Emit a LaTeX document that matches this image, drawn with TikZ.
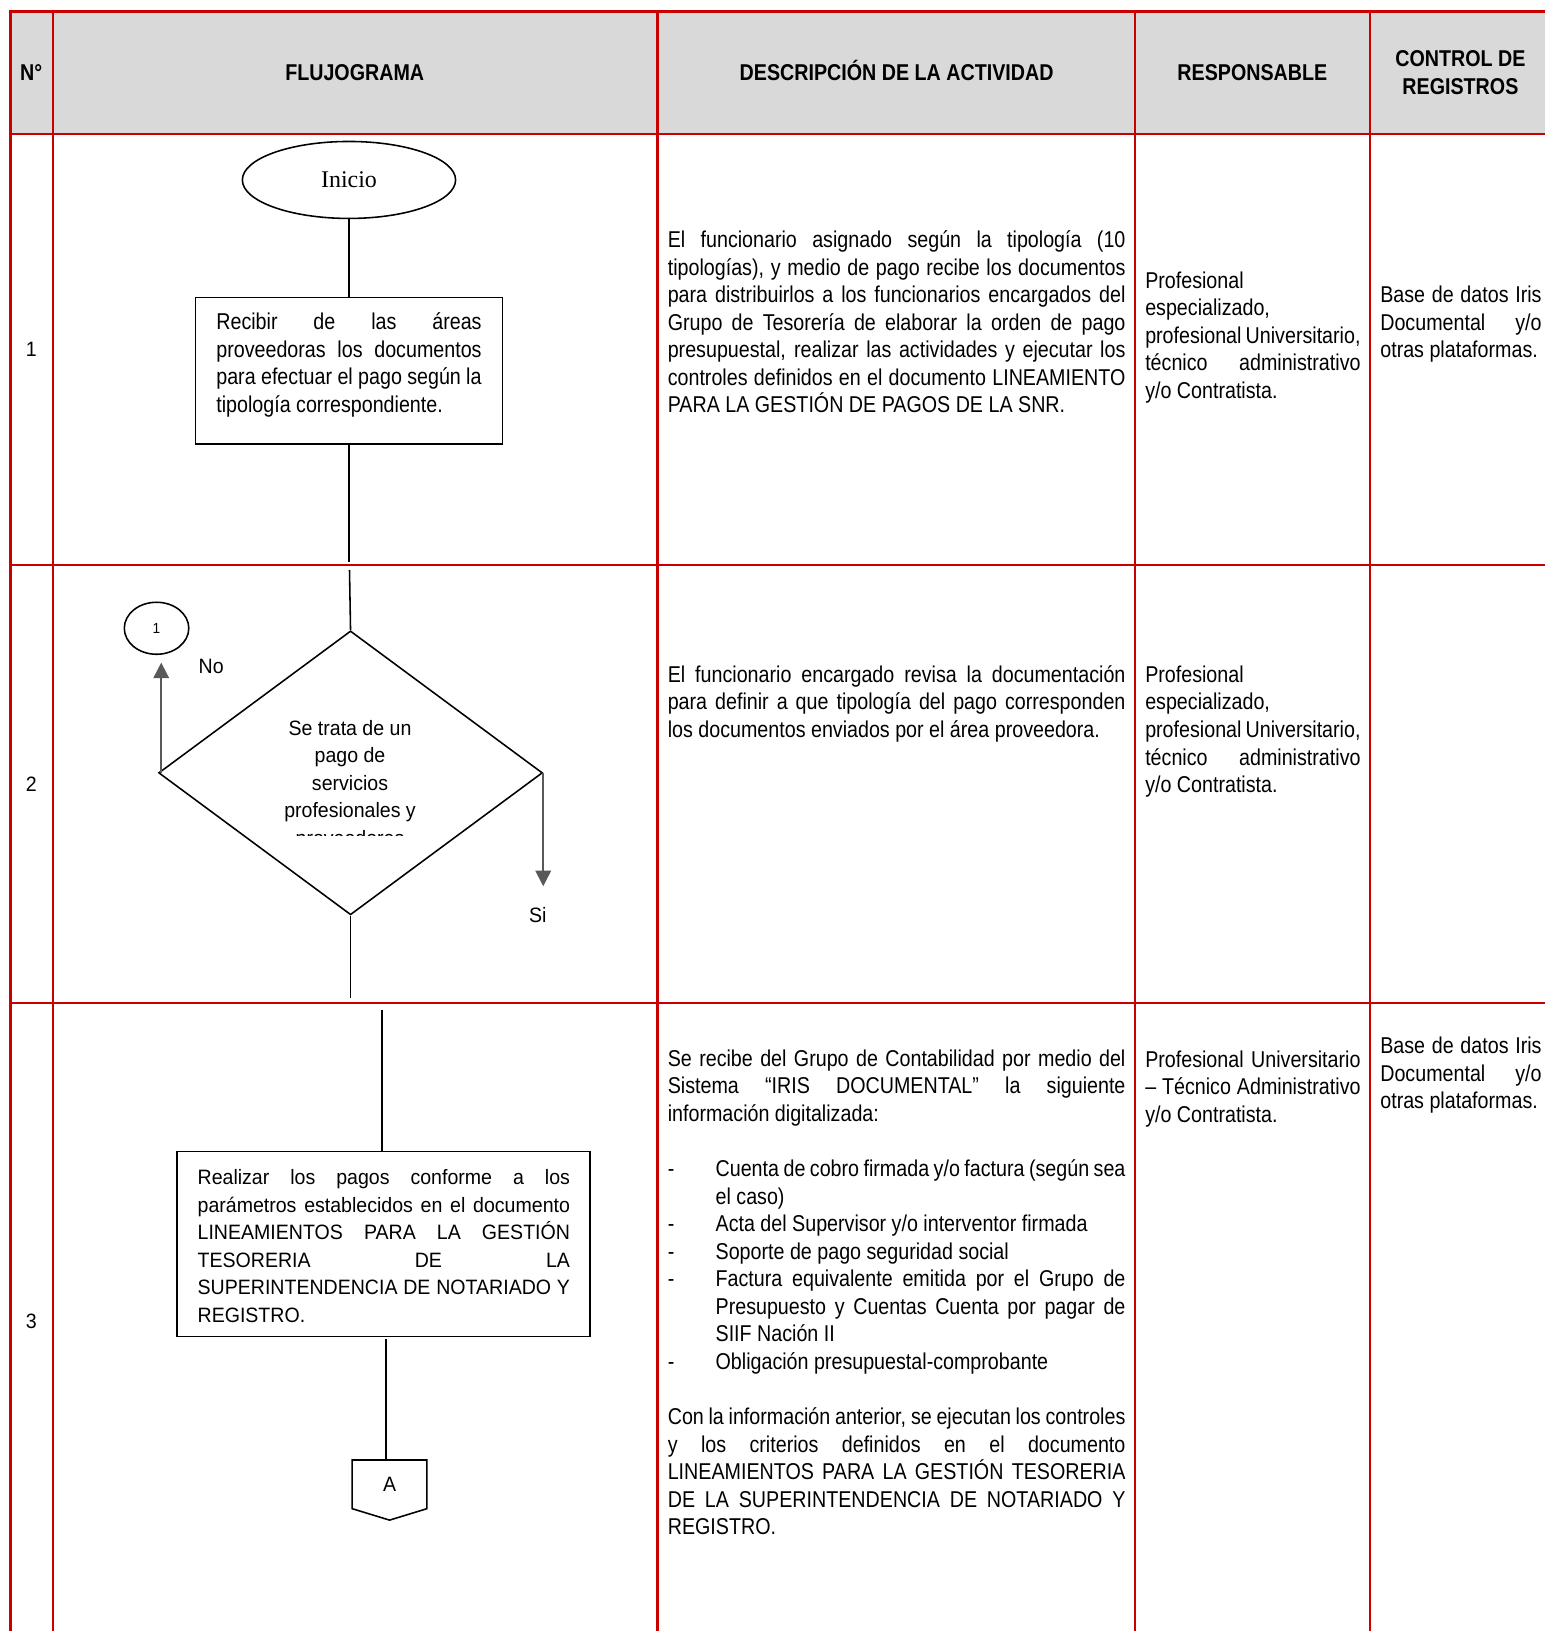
\documentclass[tikz,border=0pt]{standalone}
\usepackage{fontspec}
\setmainfont{Liberation Sans}
\newfontfamily\narrowf[FakeStretch=0.86]{Liberation Sans}
\newfontfamily\regf[FakeStretch=0.94]{Liberation Sans}
\newfontfamily\serf{Liberation Serif}
\usetikzlibrary{shapes.geometric,arrows.meta}
\definecolor{tblred}{RGB}{200,0,0}
\definecolor{hdrgray}{RGB}{217,217,217}
\definecolor{arrgray}{RGB}{89,89,89}
\newcommand\jusl[1]{\makebox[\linewidth][s]{#1}\par}
\newcommand\lastl[1]{\makebox[\linewidth][l]{#1}\par}
\newcommand\bulj[2]{\makebox[23pt][l]{#1}\makebox[\dimexpr\linewidth-23pt\relax][s]{#2}\par}
\newcommand\bull[2]{\makebox[23pt][l]{#1}\makebox[\dimexpr\linewidth-23pt\relax][l]{#2}\par}
\newcommand\cellfont{\narrowf\fontsize{11}{13.25}\selectfont}
\newcommand\boxfont{\regf\fontsize{10}{13.2}\selectfont}
\newcommand\celltext[2]{\parbox[t]{#1}{\cellfont\parindent=0pt\parskip=0pt\lineskiplimit=-20pt\relax #2}}
\newcommand\boxtext[2]{\parbox[t]{#1}{\boxfont\parindent=0pt\parskip=0pt\lineskiplimit=-20pt\relax #2}}
\begin{document}
\begin{tikzpicture}[x=0.5pt,y=-0.5pt,
  redline/.style={draw=tblred,line width=1.1pt},
  cell/.style={anchor=base west,inner sep=0pt,outer sep=0pt},
  hdr/.style={inner sep=0pt,anchor=base,align=center,font=\narrowf\bfseries\fontsize{11}{13.5}\selectfont},
  num/.style={inner sep=0pt,font=\regf\fontsize{10}{12}\selectfont},
  flow/.style={draw=black,line width=0.75pt},
  conn/.style={draw=black,line width=0.75pt},
  garrow/.style={draw=arrgray,line width=0.8pt,-{Triangle[length=7.5pt,width=7.5pt]}}]
\useasboundingbox (0,0) rectangle (1485,1568);
% table
\fill[hdrgray] (10,11) rectangle (1485,129);
\draw[redline] (10,1568) -- (10,11) -- (1485,11);
\draw[redline] (10,129) -- (1485,129);
\draw[redline] (10,543) -- (1485,543);
\draw[redline] (10,964) -- (1485,964);
\foreach \x in {51,632,1091,1317} \draw[redline] (\x,11) -- (\x,1568);
% headers
\node[hdr] (hN) at (30,77.5) {N°};
\node[hdr] (hF) at (341,77.5) {FLUJOGRAMA};
\node[hdr] (hD) at (862,77.5) {DESCRIPCIÓN DE LA ACTIVIDAD};
\node[hdr] (hR) at (1204,77.5) {RESPONSABLE};
\node[hdr] (hC1) at (1404,64) {CONTROL DE};
\node[hdr] (hC2) at (1404,91) {REGISTROS};
% row numbers
\node[num] (n1) at (30,336) {1};
\node[num] (n2) at (30,754) {2};
\node[num] (n3) at (30,1270) {3};
% row 1 flowchart
\node[flow,ellipse,minimum width=102.5pt,minimum height=37pt,inner sep=0pt,font=\serf\fontsize{11.5}{13}\selectfont] (inicio) at (335.5,173) {Inicio};
\node[flow,rectangle,minimum width=147.5pt,minimum height=70.5pt,inner sep=0pt] (box1) at (335.5,356.5) {};
\node[cell] (box1t) at (208,317) {\celltext{127.5pt}{%
\jusl{Recibir de las áreas}
\jusl{proveedoras los documentos}
\jusl{para efectuar el pago según la}
\lastl{tipología correspondiente.}}};
\coordinate (e1) at (335.5,540);
\draw[conn] (inicio.south) -- (box1.north);
\draw[conn] (box1.south) -- (e1);
% row 2 flowchart
\node[flow,diamond,minimum width=184.5pt,minimum height=136.5pt,inner sep=0pt] (dia) at (337,743) {};
\coordinate (s2) at (336,548);
\draw[conn] (s2) -- (dia.north);
\coordinate (e2) at (337,959);
\draw[conn] (dia.south) -- (e2);
\begin{scope}
\clip (220,680) rectangle (460,803);
\node[anchor=base,inner sep=0pt] (diat) at (336.5,707) {\parbox[t]{90pt}{\centering\boxfont Se trata de un\\pago de\\servicios\\profesionales y\\proveedores}};
\end{scope}
\node[flow,ellipse,minimum width=31pt,minimum height=25pt,inner sep=0pt,font=\regf\fontsize{7}{8}\selectfont] (c1) at (150.5,604) {1};
\coordinate (noend) at (155,637);
\coordinate (siend) at (522,852);
\draw[garrow] (dia.west -| noend) -- (noend);
\draw[garrow] (dia.east) -- (dia.east |- siend);
\node[num,anchor=center] (lno) at (203,641) {No};
\node[num,anchor=center] (lsi) at (517,880) {Si};
% row 3 flowchart
\node[flow,rectangle,minimum width=198.5pt,minimum height=89pt,inner sep=0pt] (box3) at (368.5,1196) {};
\node[cell] (box3t) at (190,1139) {\boxtext{179pt}{%
\jusl{Realizar los pagos conforme a los}
\jusl{parámetros establecidos en el documento}
\jusl{LINEAMIENTOS PARA LA GESTIÓN}
\jusl{TESORERIA DE LA}
\jusl{SUPERINTENDENCIA DE NOTARIADO Y}
\lastl{REGISTRO.}}};
\coordinate (s3) at (367,971);
\draw[conn] (s3) -- (s3 |- box3.north);
\node[inner sep=0pt,minimum width=35.5pt,minimum height=23pt,font=\regf\fontsize{10}{12}\selectfont] (conA) at (374.5,1427) {A};
\draw[flow] (conA.north west) -- (conA.north east) -- (conA.south east) -- ([yshift=-5.5pt]conA.south) -- (conA.south west) -- cycle;
\coordinate (a3) at (371,1287);
\draw[conn] (a3) -- (a3 |- conA.north);
% description cells
\node[cell] (d1) at (642,238) {\celltext{220pt}{%
\jusl{El funcionario asignado según la tipología (10}
\jusl{tipologías), y medio de pago recibe los documentos}
\jusl{para distribuirlos a los funcionarios encargados del}
\jusl{Grupo de Tesorería de elaborar la orden de pago}
\jusl{presupuestal, realizar las actividades y ejecutar los}
\jusl{controles definidos en el documento LINEAMIENTO}
\lastl{PARA LA GESTIÓN DE PAGOS DE LA SNR.}}};
\node[cell] (d2) at (642,656) {\celltext{220pt}{%
\jusl{El funcionario encargado revisa la documentación}
\jusl{para definir a que tipología del pago corresponden}
\lastl{los documentos enviados por el área proveedora.}}};
\node[cell] (d3) at (642,1025) {\celltext{220pt}{%
\jusl{Se recibe del Grupo de Contabilidad por medio del}
\jusl{Sistema “IRIS DOCUMENTAL” la siguiente}
\lastl{información digitalizada:}
\lastl{}
\bulj{-}{Cuenta de cobro firmada y/o factura (según sea}
\bull{}{el caso)}
\bull{-}{Acta del Supervisor y/o interventor firmada}
\bull{-}{Soporte de pago seguridad social}
\bulj{-}{Factura equivalente emitida por el Grupo de}
\bulj{}{Presupuesto y Cuentas Cuenta por pagar de}
\bull{}{SIIF Nación II}
\bull{-}{Obligación presupuestal-comprobante}
\lastl{}
\jusl{Con la información anterior, se ejecutan los controles}
\jusl{y los criterios definidos en el documento}
\jusl{LINEAMIENTOS PARA LA GESTIÓN TESORERIA}
\jusl{DE LA SUPERINTENDENCIA DE NOTARIADO Y}
\lastl{REGISTRO.}}};
% responsable cells
\node[cell] (r1) at (1101,277) {\celltext{103.5pt}{%
\lastl{Profesional}
\lastl{especializado,}
\jusl{profesional Universitario,}
\jusl{técnico administrativo}
\lastl{y/o Contratista.}}};
\node[cell] (r2) at (1101,656) {\celltext{103.5pt}{%
\lastl{Profesional}
\lastl{especializado,}
\jusl{profesional Universitario,}
\jusl{técnico administrativo}
\lastl{y/o Contratista.}}};
\node[cell] (r3) at (1101,1026) {\celltext{103.5pt}{%
\jusl{Profesional Universitario}
\jusl{– Técnico Administrativo}
\lastl{y/o Contratista.}}};
% control cells
\node[cell] (k1) at (1327,291) {\celltext{77.5pt}{%
\jusl{Base de datos Iris}
\jusl{Documental y/o}
\lastl{otras plataformas.}}};
\node[cell] (k3) at (1327,1013) {\celltext{77.5pt}{%
\jusl{Base de datos Iris}
\jusl{Documental y/o}
\lastl{otras plataformas.}}};
\end{tikzpicture}
\end{document}
